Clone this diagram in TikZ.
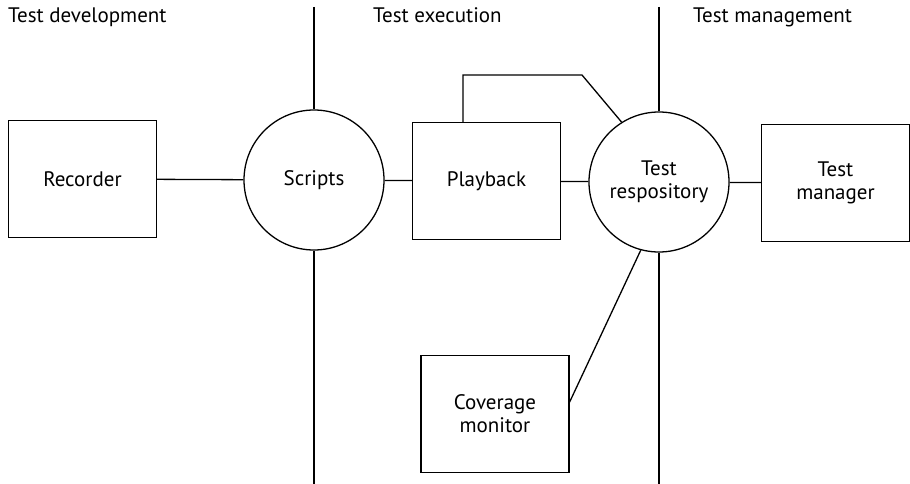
\documentclass[tikz,border=0pt]{standalone}
\usepackage{fontspec}
\setmainfont{PT Sans}
\usetikzlibrary{positioning}
\tikzstyle{vertex}=[circle,draw,line width=1.3pt,minimum size=140pt,inner sep=0pt,align=center,font=\fontsize{21}{23}\selectfont]
\tikzstyle{block}=[rectangle,draw,line width=1.3pt,minimum width=148pt,minimum height=117pt,inner sep=0pt,align=center,font=\fontsize{21}{23}\selectfont]
\tikzstyle{edge} = [draw,line width=1.3pt]
\tikzstyle{title} = [anchor=base west,inner sep=0pt,font=\fontsize{21}{23}\selectfont]

\begin{document}
\begin{tikzpicture}[x=1pt,y=-1pt]
    \useasboundingbox (0,0) rectangle (910,484);

    % column headings
    \node[title] (dev) at (8,23) {Test development};
    \node[title] (exe) at (373,23) {Test execution};
    \node[title] (man) at (693,23) {Test management};

    \foreach \pos/ \name/ \txt in {{(82.5,179)/rec/Recorder}, {(486.5,181)/play/Playback}, {(835.5,183)/mgr/{Test\\manager}}, {(495,414)/cov/{Coverage\\monitor}}}
        \node[block] (\name) at \pos {\txt};

    \foreach \pos/ \name/ \txt in {{(314,180)/scr/Scripts}, {(659,182)/repo/{Test\\respository}}}
        \node[vertex] (\name) at \pos {\txt};

    % column separators
    \coordinate (top1) at (314,7);
    \coordinate (bot1) at (314,484);
    \coordinate (top2) at (659,7);
    \coordinate (bot2) at (659,484);
    \path[edge] (top1) -- (scr);
    \path[edge] (scr) -- (bot1);
    \path[edge] (top2) -- (repo);
    \path[edge] (repo) -- (bot2);

    \foreach \source/ \dest in {rec/scr, scr/play, play/repo, repo/mgr}
        \path[edge] (\source) -- (\dest);

    \coordinate (bend1) at (463,75);
    \coordinate (bend2) at (582,75);
    \draw[edge] (play.north -| bend1) -- (bend1) -- (bend2) -- (repo.122);
    \draw[edge] ([yshift=12pt]cov.east) -- (repo.255);

\end{tikzpicture}
\end{document}
